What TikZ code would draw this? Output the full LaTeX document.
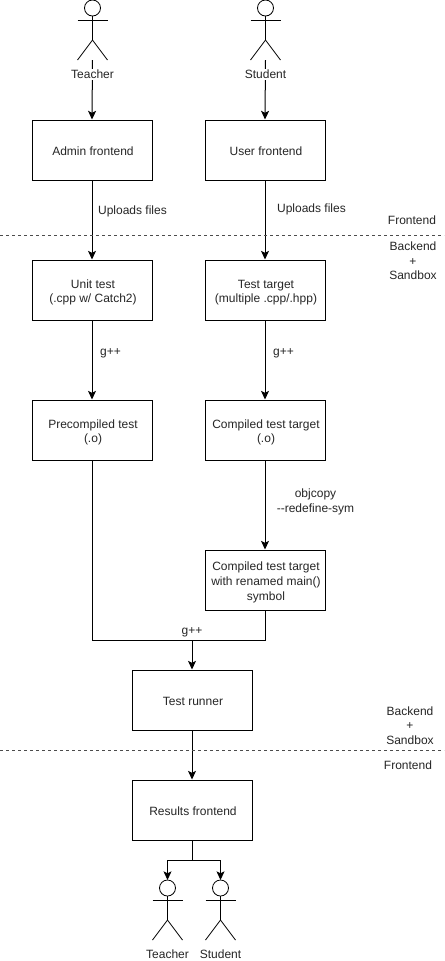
\documentclass[tikz,border=0pt]{standalone}
\usepackage{fontspec}
\setmainfont{Liberation Sans}
\usetikzlibrary{arrows.meta}
\tikzset{
  px/.style={x=0.75pt,y=-0.75pt},
  boxnode/.style={draw=black,line width=0.75pt,fill=white,minimum width=90pt,minimum height=45pt,inner sep=0pt,align=center,font=\fontsize{9}{11}\selectfont,text=black!85},
  lbl/.style={inner sep=0pt,align=center,font=\fontsize{9}{11}\selectfont,text=black!85},
  lblfill/.style={lbl,fill=white,inner ysep=1pt,inner xsep=0pt},
  conn/.style={draw=black,line width=0.75pt,-{Stealth[length=6.5pt,width=6pt,inset=1.5pt]}},
  plainconn/.style={draw=black,line width=0.75pt},
  sep/.style={draw=black!70,line width=0.75pt,dash pattern=on 2.25pt off 2.25pt},
  actorline/.style={draw=black,line width=0.6pt}
}
\newcommand{\bt}[1]{\raisebox{-1.8pt}[\height][\depth]{\begin{tabular}{@{\hspace{1.5pt}}c@{}}#1\end{tabular}}}
\newcommand{\actor}[3]{%
  \draw[actorline] (#1,#2) circle[radius=6pt];
  \draw[actorline] (#1,#2+8) -- ++(0,24) -- ++(-15,20);
  \draw[actorline] (#1,#2+32) -- ++(15,20);
  \draw[actorline] (#1-15,#2+12) -- (#1+15,#2+12);
  \coordinate (#3) at (#1,#2+52);
}
\begin{document}
\begin{tikzpicture}[px]
\useasboundingbox (0,0) rectangle (444,961);
\fill[white] (0,0) rectangle (444,961);

\actor{92.5}{8}{tfoot}
\actor{265.5}{8}{sfoot}
\node[boxnode] (admin) at (92,150) {\bt{Admin frontend}};
\node[boxnode] (user) at (265,150) {\bt{User frontend}};
\node[boxnode] (unit) at (92,290) {\bt{Unit test\\(.cpp w/ Catch2)}};
\node[boxnode] (target) at (265,290) {\bt{Test target\\(multiple .cpp/.hpp)}};
\node[boxnode] (pre) at (92,430) {\bt{Precompiled test\\(.o)}};
\node[boxnode] (comp) at (265,430) {\bt{Compiled test target\\(.o)}};
\node[boxnode] (ren) at (265,580) {\bt{Compiled test target\\with renamed main()\\symbol}};
\node[boxnode] (run) at (192,700) {\bt{Test runner}};
\node[boxnode] (res) at (192,810) {\bt{Results frontend}};

\coordinate (merge) at (192,640);
\coordinate (split) at (192,860);
\coordinate (thead) at (167.5,880);
\coordinate (shead) at (220.5,880);

\draw[conn] (tfoot) -- (admin.north);
\draw[conn] (sfoot) -- (user.north);
\node[lblfill] (tlabel) at (92.5,74.5) {Teacher};
\node[lblfill] (slabel) at (265.5,74.5) {Student};

\draw[conn] (admin) -- (unit);
\draw[conn] (user) -- (target);
\draw[conn] (unit) -- (pre);
\draw[conn] (target) -- (comp);
\draw[conn] (comp) -- (ren);
\draw[plainconn] (pre.south) |- (merge);
\draw[plainconn] (ren.south) |- (merge);
\draw[conn] (merge) -- (run.north);
\draw[conn] (run) -- (res);
\draw[plainconn] (res.south) -- (split);
\draw[conn] (split) -| (thead);
\draw[conn] (split) -| (shead);

\actor{167.5}{888}{tfootb}
\actor{220.5}{888}{sfootb}
\node[lbl] (tb) at (167.5,954.5) {Teacher};
\node[lbl] (sb) at (220.5,954.5) {Student};

\node[lbl] (l1) at (132.5,211.5) {Uploads files};
\node[lbl] (l2) at (311.5,209.5) {Uploads files};
\node[lbl] (l3) at (110.5,353) {g++};
\node[lbl] (l4) at (283.5,353) {g++};
\node[lbl] (l5) at (315.5,502) {objcopy\\{-}{-}redefine-sym};
\node[lbl] (l6) at (192,632) {g++};

\coordinate (s1a) at (0,235);
\coordinate (s1b) at (444,235);
\coordinate (s2a) at (0,750);
\coordinate (s2b) at (444,750);
\draw[sep] (s1a) -- (s1b);
\draw[sep] (s2a) -- (s2b);
\node[lbl] (f1) at (412,220.5) {Frontend};
\node[lbl] (b1) at (413,261) {Backend\\+\\Sandbox};
\node[lbl] (b2) at (410,725.5) {Backend\\+\\Sandbox};
\node[lbl] (f2) at (408,765) {Frontend};
\end{tikzpicture}
\end{document}
